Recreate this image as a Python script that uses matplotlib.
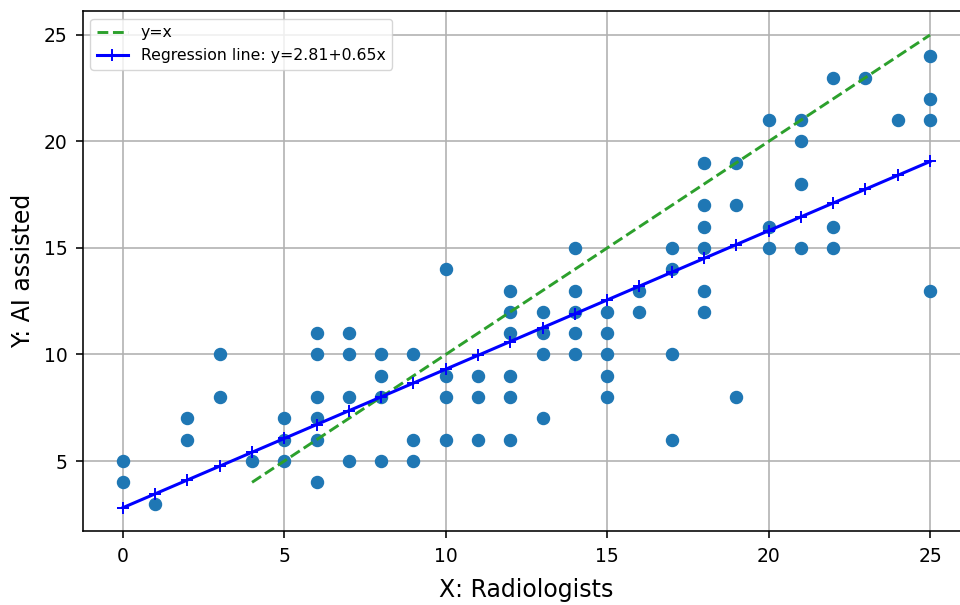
import matplotlib
matplotlib.use("Agg")
import matplotlib.pyplot as plt
import numpy as np

# Data: (x = radiologists score, y = AI assisted score)
x_vals = [0, 0, 1, 2, 2, 3, 3, 4, 5, 5, 5,
          6, 6, 6, 6, 6, 6, 7, 7, 7, 7, 8, 8, 8, 8, 9, 9, 9,
          10, 10, 10, 10, 11, 11, 11, 12, 12, 12, 12, 12, 12,
          13, 13, 13, 13, 14, 14, 14, 14, 14, 15, 15, 15, 15, 15,
          16, 16, 17, 17, 17, 17, 18, 18, 18, 18, 18, 18,
          19, 19, 19, 20, 20, 20, 21, 21, 21, 21, 22, 22, 22,
          23, 24, 25, 25, 25, 25]
y_vals = [5, 4, 3, 7, 6, 10, 8, 5, 7, 6, 5,
          11, 10, 8, 7, 6, 4, 11, 10, 8, 5, 10, 9, 8, 5, 10, 6, 5,
          14, 9, 8, 6, 9, 8, 6, 13, 12, 11, 9, 8, 6,
          12, 11, 10, 7, 15, 13, 12, 11, 10, 12, 11, 10, 9, 8,
          13, 12, 15, 14, 10, 6, 19, 17, 16, 15, 13, 12,
          19, 17, 8, 21, 16, 15, 21, 20, 18, 15, 23, 16, 15,
          23, 21, 24, 22, 21, 13]

identity_x = [4, 25]
intercept = 2.81
slope = 0.65
reg_label = "Regression line: y=2.81+0.65x"
x_ticks = [0, 5, 10, 15, 20, 25]
y_ticks = [5, 10, 15, 20, 25]

fig = plt.figure(figsize=(9.6, 6.05), dpi=100)
ax = fig.add_axes([0.0860, 0.1218, 0.9248, 0.8595])

ax.scatter(x_vals, y_vals, s=75, color="#1f77b4", zorder=2)
ax.plot(identity_x, identity_x, "--", color="#2ca02c", lw=2.1, label="y=x", zorder=3)
reg_x = np.array(sorted(set(x_vals)))
reg_y = intercept + slope * reg_x
ax.plot(reg_x, reg_y, "-", color="#0000ff", marker="+", ms=9, mew=1.4, lw=2.2,
        label=reg_label, zorder=4)

ax.set_xlim(-1.25, 26.25)
ax.set_ylim(1.70, 26.11)
ax.set_xticks(x_ticks)
ax.set_yticks(y_ticks)
ax.grid(True, color="#b0b0b0", lw=1.15, zorder=0)
ax.set_axisbelow(True)
ax.tick_params(labelsize=13.5, length=5, width=1.15, pad=6)
for s in ax.spines.values():
    s.set_linewidth(1.15)

ax.set_xlabel("X: Radiologists", fontsize=17, labelpad=9)
ax.set_ylabel("Y: AI assisted", fontsize=17, labelpad=6)
ax.legend(loc="upper left", fontsize=11.3)

fig.savefig("out.png", dpi=100)
